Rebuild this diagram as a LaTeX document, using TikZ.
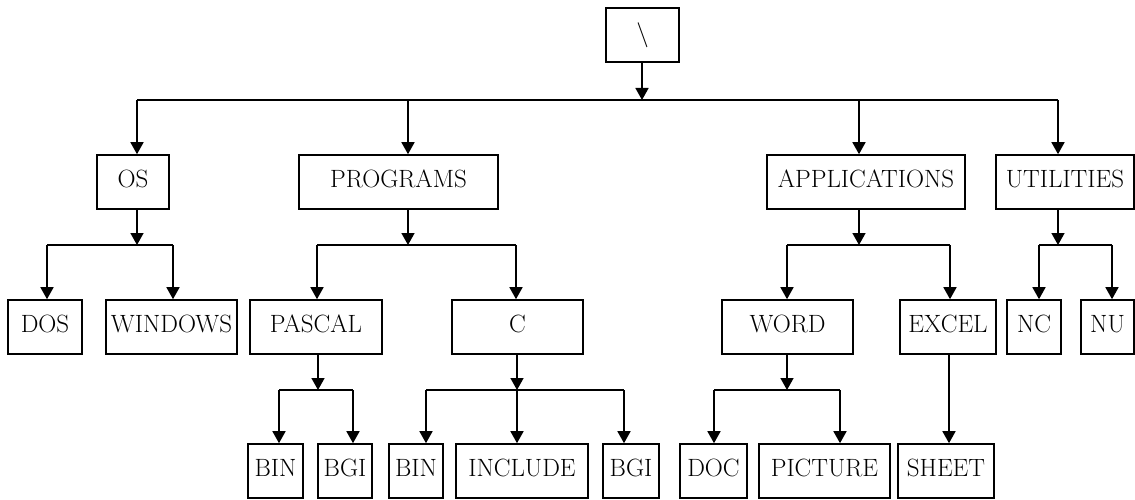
\documentclass[tikz,border=0pt]{standalone}
\usepackage{fontspec}
\setmainfont{Latin Modern Roman}
\usetikzlibrary{arrows.meta}
\begin{document}
\begin{tikzpicture}[x=1pt,y=-1pt,
  box/.style={draw,line width=1.6pt,inner sep=0pt,minimum height=54pt,text depth=6pt,font=\fontsize{25}{28}\selectfont},
  arr/.style={line width=1.6pt,-{Triangle[width=13pt,length=12pt]}},
  busline/.style={line width=1.6pt}]
\useasboundingbox (0,0) rectangle (1135,500);
% nodes
\node[box,minimum width=73pt] (root) at (642.5,35) {\textbackslash};
\node[box,minimum width=72pt] (os) at (133,182) {OS};
\node[box,minimum width=199pt] (prog) at (398.5,182) {PROGRAMS};
\node[box,minimum width=198pt] (apps) at (866,182) {APPLICATIONS};
\node[box,minimum width=138pt] (util) at (1065,182) {UTILITIES};
\node[box,minimum width=74pt] (dos) at (45,327) {DOS};
\node[box,minimum width=131pt] (win) at (171.5,327) {WINDOWS};
\node[box,minimum width=132pt] (pascal) at (316,327) {PASCAL};
\node[box,minimum width=131pt] (c) at (517.5,327) {C};
\node[box,minimum width=131pt] (word) at (787.5,327) {WORD};
\node[box,minimum width=96pt] (excel) at (948,327) {EXCEL};
\node[box,minimum width=54pt] (nc) at (1034,327) {NC};
\node[box,minimum width=53pt] (nu) at (1107.5,327) {NU};
\node[box,minimum width=55pt] (bina) at (275.5,471) {BIN};
\node[box,minimum width=54pt] (bgia) at (345,471) {BGI};
\node[box,minimum width=54pt] (binb) at (416,471) {BIN};
\node[box,minimum width=132pt] (incl) at (522,471) {INCLUDE};
\node[box,minimum width=56pt] (bgib) at (631,471) {BGI};
\node[box,minimum width=67pt] (doc) at (713.5,471) {DOC};
\node[box,minimum width=131pt] (pict) at (824.5,471) {PICTURE};
\node[box,minimum width=96pt] (sheet) at (946,471) {SHEET};
% junction coordinates
\coordinate (rj) at (642,100);
\coordinate (osd) at (137,100);
\coordinate (progd) at (408,100);
\coordinate (appsd) at (859,100);
\coordinate (utild) at (1058,100);
\coordinate (osj) at (137,245);
\coordinate (dosd) at (47,245);
\coordinate (wind) at (173,245);
\coordinate (progj) at (408,245);
\coordinate (pascald) at (317,245);
\coordinate (cd) at (516,245);
\coordinate (appsj) at (859,245);
\coordinate (wordd) at (787,245);
\coordinate (exceld) at (950,245);
\coordinate (utilj) at (1058,245);
\coordinate (ncd) at (1039,245);
\coordinate (nud) at (1112,245);
\coordinate (pascalj) at (318,390);
\coordinate (binad) at (279,390);
\coordinate (bgiad) at (353,390);
\coordinate (cj) at (517,390);
\coordinate (binbd) at (426,390);
\coordinate (incld) at (517,390);
\coordinate (bgibd) at (624,390);
\coordinate (wordj) at (787,390);
\coordinate (docd) at (714,390);
\coordinate (pictd) at (840,390);
\coordinate (excelj) at (949,390);
% level 0 -> 1
\draw[arr] (rj |- root.south) -- (rj);
\draw[busline] (osd) -- (utild);
\foreach \j/\n in {osd/os,progd/prog,appsd/apps,utild/util}
  \draw[arr] (\j) -- (\j |- \n.north);
% level 1 -> 2
\foreach \p/\j/\a/\b in {os/osj/dosd/wind,prog/progj/pascald/cd,apps/appsj/wordd/exceld,util/utilj/ncd/nud}{
  \draw[arr] (\j |- \p.south) -- (\j);
  \draw[busline] (\a) -- (\b);
}
\foreach \j/\n in {dosd/dos,wind/win,pascald/pascal,cd/c,wordd/word,exceld/excel,ncd/nc,nud/nu}
  \draw[arr] (\j) -- (\j |- \n.north);
% level 2 -> 3
\foreach \p/\j/\a/\b in {pascal/pascalj/binad/bgiad,c/cj/binbd/bgibd,word/wordj/docd/pictd}{
  \draw[arr] (\j |- \p.south) -- (\j);
  \draw[busline] (\a) -- (\b);
}
\foreach \j/\n in {binad/bina,bgiad/bgia,binbd/binb,incld/incl,bgibd/bgib,docd/doc,pictd/pict}
  \draw[arr] (\j) -- (\j |- \n.north);
\draw[arr] (excelj |- excel.south) -- (excelj |- sheet.north);
\end{tikzpicture}
\end{document}
